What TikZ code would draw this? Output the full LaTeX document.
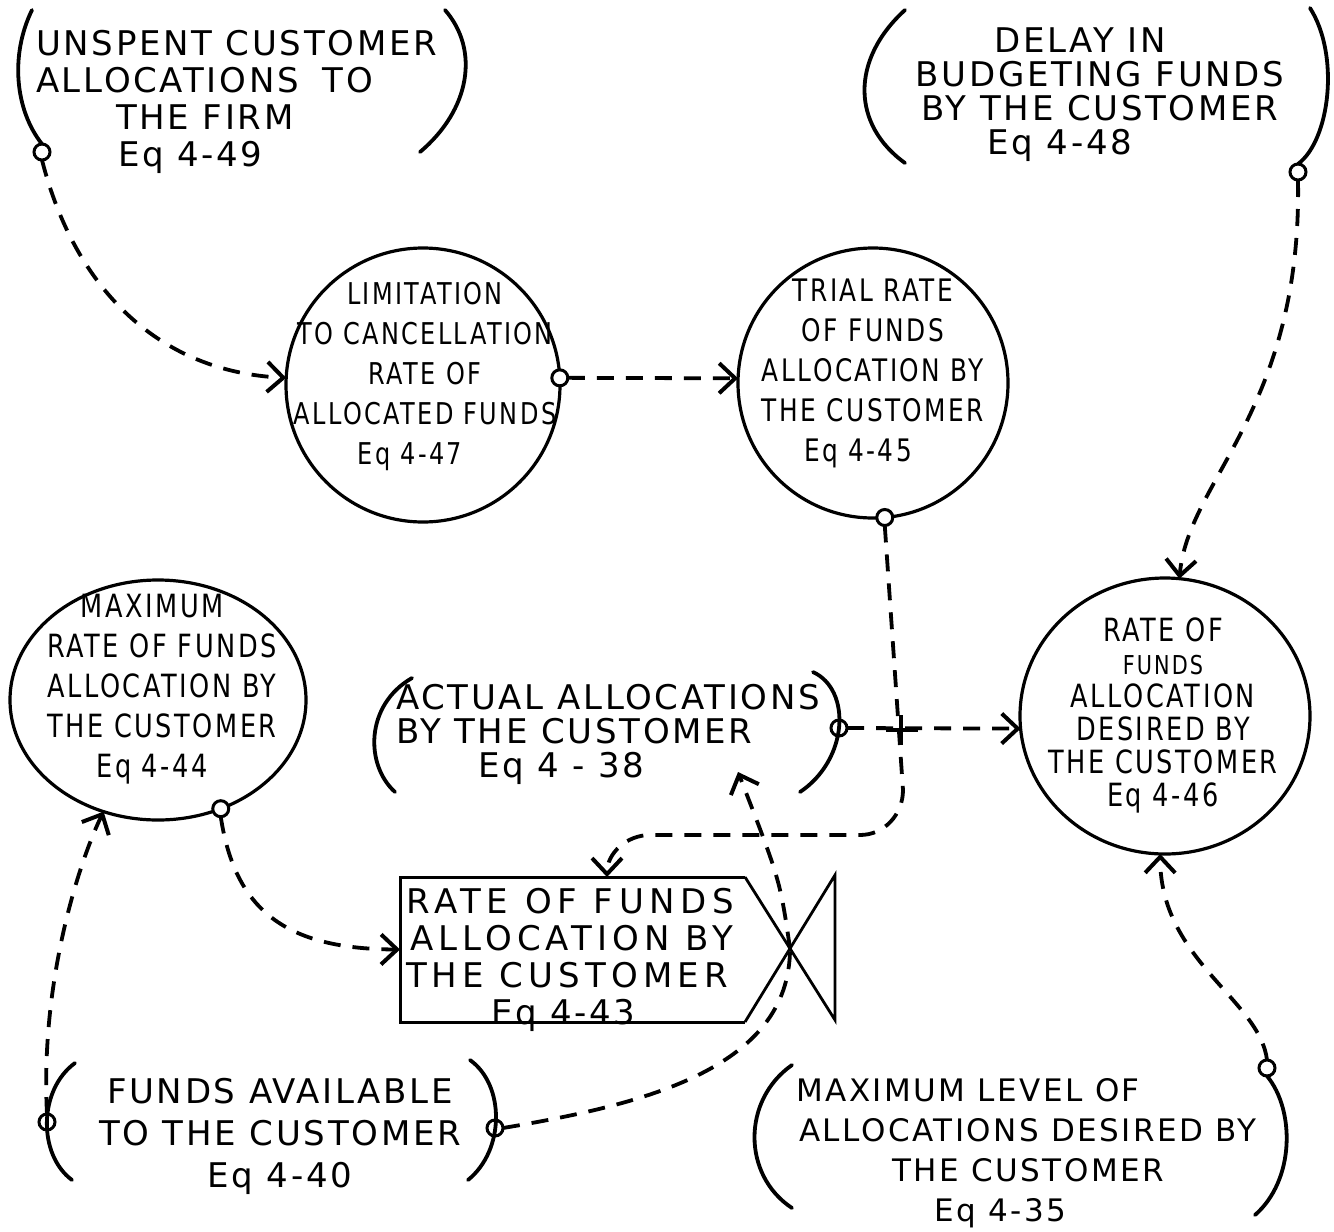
\documentclass[tikz,border=0pt]{standalone}
\usepackage{fontspec}
\newfontfamily\hand[LetterSpace=8]{DejaVu Sans}
\newfontfamily\handn[LetterSpace=8,FakeStretch=0.8]{DejaVu Sans}
\usetikzlibrary{arrows.meta,shapes.geometric,calc}
\begin{document}
\begin{tikzpicture}[x=1pt,y=-1pt,
  every node/.style={inner sep=0pt,outer sep=0pt},
  txt/.style args={#1/#2}{font=\hand\fontsize{#1}{#2}\selectfont},
  ntxt/.style args={#1/#2}{font=\handn\fontsize{#1}{#2}\selectfont},
  outline/.style={draw,line width=3.2pt},
  paren/.style={line width=3.8pt,line cap=round},
  dashlink/.style={line width=3.8pt,dash pattern=on 17pt off 12pt},
  link/.style={dashlink,-{Straight Barb[length=16pt,width=30pt,line width=4pt]}},
  tap/.style={circle,draw,line width=3pt,minimum size=16pt,fill=white}]
\useasboundingbox[fill=white] (0,0) rectangle (1334,1232);

% ---- round auxiliaries
\node[outline,circle,minimum size=274pt] (lim) at (423,385) {};
\node[ntxt=30/40,align=center,anchor=north] (limT) at (425,282)
  {LIMITATION\\TO CANCELLATION\\RATE OF\\ALLOCATED FUNDS\\Eq 4-47\hspace*{30pt}};
\node[outline,circle,minimum size=270pt] (trial) at (873,383) {};
\node[ntxt=31/40,align=center,anchor=north] (trialT) at (873,279)
  {TRIAL RATE\\OF FUNDS\hspace*{20pt}\\ALLOCATION BY\\THE CUSTOMER\\Eq 4-45\hspace*{30pt}};
\node[outline,ellipse,minimum width=296pt,minimum height=240pt] (maxr) at (158,700) {};
\node[ntxt=32/40,align=center,anchor=north] (maxrT) at (162,594)
  {MAXIMUM\hspace*{20pt}\\RATE OF FUNDS\\ALLOCATION BY\\THE CUSTOMER\\Eq 4-44\hspace*{20pt}};
\node[outline,ellipse,minimum width=290pt,minimum height=276pt] (desired) at (1165,716) {};
\node[ntxt=32/33,align=center,anchor=north] (desiredT) at (1163,618)
  {RATE OF\\{\fontsize{26}{28}\selectfont FUNDS}\\ALLOCATION\\DESIRED BY\\THE CUSTOMER\\Eq 4-46};

% ---- rate (flow) with valve
\node[minimum width=345pt,minimum height=145pt] (rate) at (572.5,949.5) {};
\node[txt=34/37,align=left,anchor=north west] (rateT) at (406,888)
  {\addfontfeature{LetterSpace=17}RATE OF FUNDS\\
   \addfontfeature{LetterSpace=15}\hspace*{4pt}ALLOCATION BY\\
   \addfontfeature{LetterSpace=15}THE CUSTOMER\\
   \hspace*{85pt}Eq 4-43};
\coordinate (vtop) at (835,875);
\coordinate (vbot) at (835,1020);
\coordinate (valve) at (790,948.5);
\coordinate (rtop) at ($(rate.north west)!0.6!(rate.north east)$);
\draw[line width=3pt] (rate.north east) -- (rate.north west) -- (rate.south west) -- (rate.south east);
\draw[line width=2.8pt] (rate.north east) -- (vbot) -- (vtop) -- (rate.south east);

% ---- bracketed constants / levels
\node[txt=34/37,align=left,anchor=north west] (unspent) at (36,30)
  {UNSPENT CUSTOMER\\ALLOCATIONS\hspace{24pt}TO\\\hspace*{80pt}THE FIRM\\\hspace*{82pt}Eq 4-49};
\node[txt=34/34,align=center,anchor=north] (delay) at (1100,28)
  {DELAY IN\hspace*{40pt}\\BUDGETING FUNDS\\BY THE CUSTOMER\\Eq 4-48\hspace*{80pt}};
\node[txt=34/34,align=left,anchor=north west] (actual) at (396,684)
  {ACTUAL ALLOCATIONS\\BY THE CUSTOMER\\\hspace*{82pt}Eq 4 - 38};
\node[txt=34/42,align=center,anchor=north] (funds) at (280,1078)
  {FUNDS AVAILABLE\\TO THE CUSTOMER\\Eq 4-40};
\node[txt=31/40,align=center,anchor=north] (maxlev) at (1028,1078)
  {MAXIMUM LEVEL OF\hspace*{120pt}\\ALLOCATIONS DESIRED BY\\THE CUSTOMER\\Eq 4-35\hspace*{56pt}};

% ---- taps
\node[tap] (t1) at (42,152) {};
\node[tap] (t2) at (lim.3) {};
\node[tap] (t3) at (trial.-85) {};
\node[tap] (t4) at (maxr.-60) {};
\node[tap] (t5) at (47,1122) {};
\node[tap] (t6) at (495,1128) {};
\node[tap] (t7) at (1267,1068) {};
\node[tap] (t8) at (839,728) {};
\node[tap] (t9) at (1298,172) {};
\coordinate (actin) at (738,772);

% ---- parentheses
\draw[paren] (32,10) .. controls (10,55) and (15,110) .. (t1.north);
\draw[paren] (445,10) .. controls (480,50) and (470,110) .. (420,152);
\draw[paren] (905,10) .. controls (850,60) and (852,125) .. (905,163);
\draw[paren] (1310,8) .. controls (1340,55) and (1330,140) .. (t9.north);
\draw[paren] (412,678) .. controls (365,705) and (365,765) .. (395,792);
\draw[paren] (813,672) .. controls (852,690) and (848,760) .. (800,792);
\draw[paren] (75,1063) .. controls (38,1090) and (38,1155) .. (72,1180);
\draw[paren] (470,1060) .. controls (505,1085) and (505,1150) .. (468,1180);
\draw[paren] (792,1065) .. controls (742,1100) and (742,1175) .. (792,1208);
\draw[paren] (t7.south) .. controls (1295,1110) and (1295,1180) .. (1255,1215);

% ---- information links
\draw[link] (t1.south) .. controls (75,290) and (160,372) .. (lim.177);
\draw[link] (t2.east) -- (trial.178);
\draw[link] (t9.south) .. controls (1302,410) and (1188,480) .. (desired.84);
\draw[link] (t3.south) -- (903,790) to[out=-90,in=0] (860,835) -- (650,835) to[out=180,in=90] (rtop);
\draw[link] (t8.east) -- (desired.185);
\draw[line width=4pt] (886,730) -- (918,730) (901,715) -- (901,745);
\draw[link] (t4.south) .. controls (235,910) and (285,949) .. (rate.west);
\draw[link] (t5.north) .. controls (40,980) and (80,860) .. (maxr.244);
\draw[dashlink] (t6.east) .. controls (640,1105) and (790,1070) .. (valve);
\draw[link] (valve) .. controls (780,880) .. (actin);
\draw[link] (t7.north) .. controls (1260,1000) and (1160,960) .. (desired.268);
\end{tikzpicture}
\end{document}
